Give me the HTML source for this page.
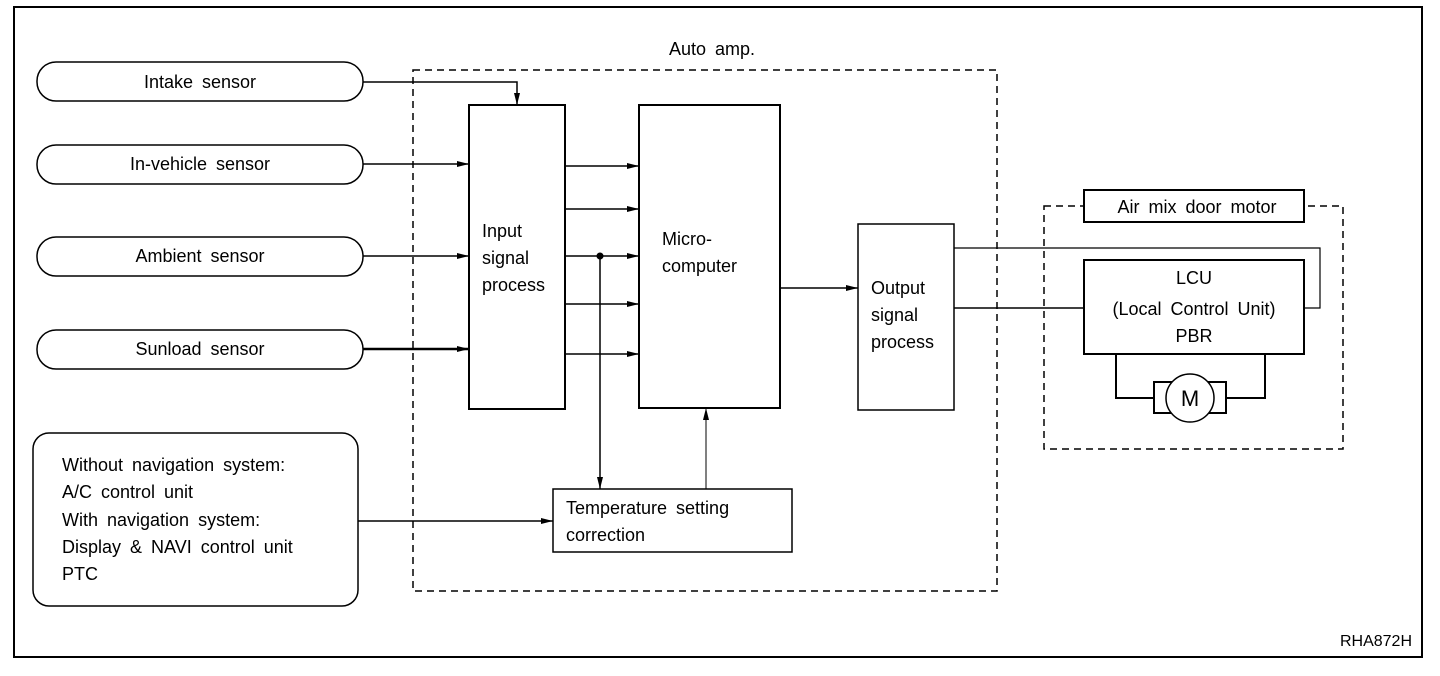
<!DOCTYPE html>
<html><head><meta charset="utf-8"><style>
html,body{margin:0;padding:0;background:#fff;}
svg{display:block;}
text{font-family:"Liberation Sans",sans-serif;font-size:18px;fill:#000;word-spacing:4px;}
</style></head><body>
<svg width="1440" height="676" viewBox="0 0 1440 676" xmlns="http://www.w3.org/2000/svg">
<defs>
<marker id="a" markerWidth="12" markerHeight="8" refX="12" refY="4" orient="auto" markerUnits="userSpaceOnUse">
<path d="M0,1 L12,4 L0,7 z" fill="#000"/></marker>
</defs>
<rect x="14" y="7" width="1408" height="650" fill="none" stroke="#000" stroke-width="2"/>
<g fill="none" stroke="#000" stroke-width="1.5">
<rect x="413" y="70" width="584" height="521" stroke-dasharray="7,5"/>
<rect x="1044" y="206" width="299" height="243" stroke-dasharray="7,5"/>
<rect x="37" y="62" width="326" height="39" rx="19"/>
<rect x="37" y="145" width="326" height="39" rx="19"/>
<rect x="37" y="237" width="326" height="39" rx="19"/>
<rect x="37" y="330" width="326" height="39" rx="19"/>
<rect x="33" y="433" width="325" height="173" rx="16"/>
<rect x="469" y="105" width="96" height="304" stroke-width="2"/>
<rect x="639" y="105" width="141" height="303" stroke-width="2"/>
<rect x="858" y="224" width="96" height="186"/>
<rect x="553" y="489" width="239" height="63"/>
<rect x="1084" y="190" width="220" height="32" fill="#fff" stroke-width="2"/>
<rect x="1084" y="260" width="220" height="94" stroke-width="2"/>
<path d="M363,82 H517 V105" marker-end="url(#a)"/>
<path d="M363,164 H469" marker-end="url(#a)"/>
<path d="M363,256 H469" marker-end="url(#a)"/>
<path d="M363,349 H469" marker-end="url(#a)" stroke-width="2.5"/>
<path d="M565,166 H639" marker-end="url(#a)"/>
<path d="M565,209 H639" marker-end="url(#a)"/>
<path d="M565,256 H639" marker-end="url(#a)"/>
<path d="M565,304 H639" marker-end="url(#a)"/>
<path d="M565,354 H639" marker-end="url(#a)"/>
<path d="M600,256 V489" marker-end="url(#a)"/>
<path d="M706,489 V408" marker-end="url(#a)" stroke-width="1"/>
<path d="M780,288 H858" marker-end="url(#a)"/>
<path d="M358,521 H553" marker-end="url(#a)"/>
<path d="M954,248 H1320 V308 H1304" stroke-width="1.2"/>
<path d="M954,308 H1084"/>
<path d="M1116,354 V398 H1154 M1226,398 H1265 V354" stroke-width="2"/>
<rect x="1154" y="382" width="72" height="31" stroke-width="2"/>
<circle cx="1190" cy="398" r="24" fill="#fff"/>
</g>
<circle cx="600" cy="256" r="3.5" fill="#000"/>
<text x="712" y="55" text-anchor="middle">Auto amp.</text>
<text x="200" y="88" text-anchor="middle">Intake sensor</text>
<text x="200" y="170" text-anchor="middle">In-vehicle sensor</text>
<text x="200" y="262" text-anchor="middle">Ambient sensor</text>
<text x="200" y="355" text-anchor="middle">Sunload sensor</text>
<text x="482" y="237">Input</text>
<text x="482" y="264">signal</text>
<text x="482" y="291">process</text>
<text x="662" y="245">Micro-</text>
<text x="662" y="272">computer</text>
<text x="871" y="294">Output</text>
<text x="871" y="321">signal</text>
<text x="871" y="348">process</text>
<text x="566" y="514">Temperature setting</text>
<text x="566" y="541">correction</text>
<text x="62" y="471">Without navigation system:</text>
<text x="62" y="498">A/C control unit</text>
<text x="62" y="526">With navigation system:</text>
<text x="62" y="553">Display &amp; NAVI control unit</text>
<text x="62" y="580">PTC</text>
<text x="1197" y="213" text-anchor="middle">Air mix door motor</text>
<text x="1194" y="284" text-anchor="middle">LCU</text>
<text x="1194" y="315" text-anchor="middle">(Local Control Unit)</text>
<text x="1194" y="342" text-anchor="middle">PBR</text>
<text x="1190" y="406" text-anchor="middle" style="font-size:22px">M</text>
<text x="1412" y="646" text-anchor="end" style="font-size:16px">RHA872H</text>
</svg>
</body></html>
